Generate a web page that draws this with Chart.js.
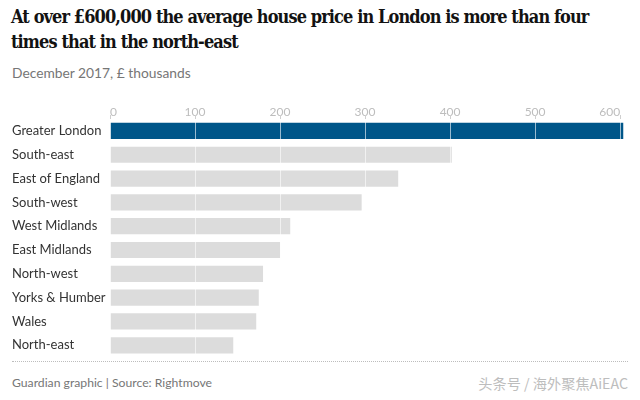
<!DOCTYPE html>
<html>
<head>
<meta charset="utf-8">
<script src="https://cdn.jsdelivr.net/npm/chart.js@4.4.1/dist/chart.umd.min.js"></script>
<style>
  html,body{margin:0;padding:0;background:#fff;width:640px;height:400px;overflow:hidden;}
  #title{position:absolute;left:11px;top:4px;width:625px;font-family:"DejaVu Serif Condensed","Liberation Serif",serif;font-weight:bold;font-size:18px;line-height:25px;color:#121212;letter-spacing:-0.9px;}
  #sub{position:absolute;left:12px;top:64px;font-family:Lato,sans-serif;font-size:13.8px;color:#767676;}
  #wrap{position:absolute;left:0;top:95px;width:640px;height:274px;}
  #rule{position:absolute;left:12px;top:361px;width:616px;border-top:1px dotted #bdbdbd;}
  #src{position:absolute;left:12px;top:375px;font-family:Lato,sans-serif;font-size:12.2px;color:#767676;}
  #wm{position:absolute;right:12px;top:373px;font-family:"Noto Sans CJK SC",sans-serif;font-size:14.2px;color:#bdbdbd;}
</style>
</head>
<body>
<div id="title">At over £600,000 the average house price in London is more than four times that in the north-east</div>
<div id="sub">December 2017, £ thousands</div>
<div id="rule"></div>
<div id="src">Guardian graphic | Source: Rightmove</div>
<div id="wm">头条号 / 海外聚焦AiEAC</div>
<div id="wrap"><canvas id="c" width="640" height="274"></canvas></div>
<script>
const categories = ["Greater London","South-east","East of England","South-west","West Midlands","East Midlands","North-west","Yorks & Humber","Wales","North-east"];
const prices = [604, 402, 339, 296, 212, 200, 180, 175, 172, 145];
const tickValues = [0, 100, 200, 300, 400, 500, 600];
const barColors = categories.map(c => c === "Greater London" ? "#005689" : "#dcdcdc");

new Chart(document.getElementById('c'), {
  type: 'bar',
  data: {
    labels: categories,
    datasets: [{
      data: prices,
      backgroundColor: barColors,
      borderWidth: 0,
      barPercentage: 0.68,
      categoryPercentage: 1.0
    }]
  },
  options: {
    indexAxis: 'y',
    responsive: false,
    animation: false,
    layout: { padding: { left: 12, right: 16.5, top: 0, bottom: 4 } },
    plugins: { legend: { display: false }, tooltip: { enabled: false } },
    scales: {
      x: {
        position: 'top',
        min: 0,
        max: 604,
        afterBuildTicks: (s) => { s.ticks = tickValues.map(v => ({ value: v })); },
        afterFit: (s) => { s.height = 24; },
        ticks: { color: '#bdbdbd', font: { family: 'Lato', size: 12 }, padding: -4, maxRotation: 0, align: 'inner' },
        grid: { color: 'rgba(255,255,255,0.6)', z: 1, drawTicks: true, tickLength: 4, tickColor: '#cfcfcf' },
        border: { display: false }
      },
      y: {
        afterFit: (s) => { s.width = 98; },
        ticks: { color: '#333333', font: { family: 'Lato', size: 13 }, crossAlign: 'far', padding: 4 },
        grid: { display: false },
        border: { display: false }
      }
    }
  }
});
</script>
</body>
</html>
